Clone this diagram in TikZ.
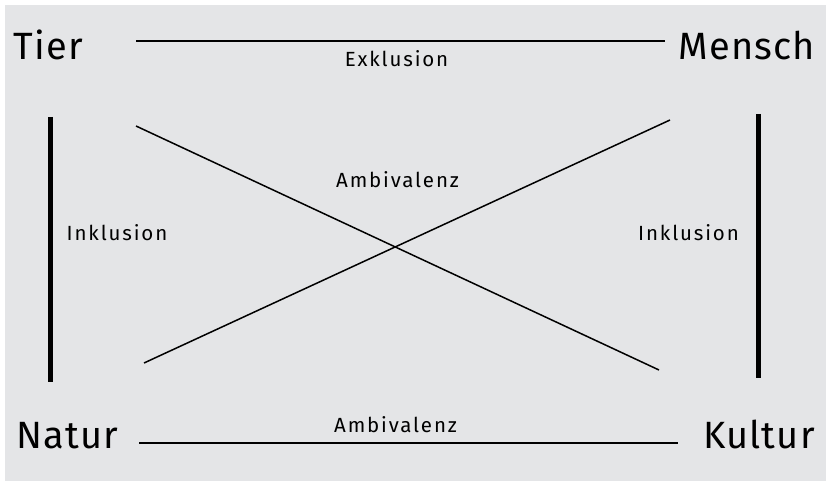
\documentclass[tikz,border=0pt]{standalone}
\usepackage{fontspec}
\setmainfont{Fira Sans}
\newfontfamily\bigfont[LetterSpace=3]{Fira Sans}
\newfontfamily\smallfont[LetterSpace=9]{Fira Sans}
\definecolor{bg}{HTML}{E4E5E7}
\tikzset{
  big/.style={inner sep=0pt, anchor=base, font=\bigfont\fontsize{38}{40}\selectfont},
  small/.style={inner sep=0pt, anchor=base, font=\smallfont\fontsize{20.5}{22}\selectfont},
  thinline/.style={line width=1.5pt, line cap=butt},
  midline/.style={line width=2.2pt},
  thickline/.style={line width=5pt},
}
\begin{document}
\begin{tikzpicture}[x=1pt,y=-1pt]
\useasboundingbox (0,0) rectangle (826,481);
\fill[white] (0,0) rectangle (826,481);
\fill[bg] (5,5) rectangle (826,481);
% corner words
\node[big] (tier) at (48.5,60) {Tier};
\node[big] (mensch) at (747,60) {Mensch};
\node[big] (natur) at (67.5,448) {Natur};
\node[big] (kultur) at (759,448) {Kultur};
% labels
\node[small] (exk) at (396.5,67) {Exklusion};
\node[small] (ambm) at (397.5,187) {Ambivalenz};
\node[small] (inkl) at (117,240) {Inklusion};
\node[small] (inkr) at (688.5,240) {Inklusion};
\node[small] (ambb) at (395.5,432) {Ambivalenz};
% line end points
\coordinate (t1) at (136,41);
\coordinate (t2) at (665,41);
\coordinate (b1) at (139,443);
\coordinate (b2) at (678,443);
\coordinate (l1) at (50.5,117);
\coordinate (l2) at (50.5,382);
\coordinate (r1) at (758.5,114);
\coordinate (r2) at (758.5,378);
\coordinate (x1) at (136,126);
\coordinate (x2) at (659,370);
\coordinate (y1) at (144,363);
\coordinate (y2) at (670,120);
\draw[midline] (t1) -- (t2);
\draw[midline] (b1) -- (b2);
\draw[thickline] (l1) -- (l2);
\draw[thickline] (r1) -- (r2);
\draw[thinline] (x1) -- (x2);
\draw[thinline] (y1) -- (y2);
\end{tikzpicture}
\end{document}
